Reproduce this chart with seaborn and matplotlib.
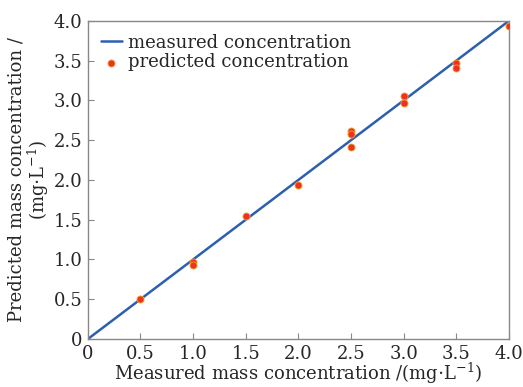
import numpy as np
import pandas as pd
import seaborn as sns
import matplotlib.pyplot as plt
from matplotlib.ticker import FuncFormatter

# measured vs predicted concentration (mg/L)
line_x = [0.0, 4.0]
line_y = [0.0, 4.0]

measured = [0.5, 1.0, 1.0, 1.5, 2.0, 2.5, 2.5, 2.5, 3.0, 3.0, 3.5, 3.5, 4.0]
predicted = [0.50, 0.97, 0.93, 1.55, 1.94, 2.62, 2.58, 2.42, 3.05, 2.97, 3.47, 3.41, 3.94]

sns.set_style("ticks")
plt.rcParams['font.family'] = ['DejaVu Serif']
plt.rcParams['mathtext.fontset'] = 'dejavuserif'

fig, ax = plt.subplots(figsize=(5.23, 3.87), dpi=100)

sns.lineplot(x=line_x, y=line_y, ax=ax, color='#2d5fb0', linewidth=1.8,
             label='measured concentration')
sns.scatterplot(x=measured, y=predicted, ax=ax, color='#ee3124', edgecolor='#f5a623',
                linewidth=0.6, s=26, label='predicted concentration', zorder=3)

ax.set_xlim(0, 4)
ax.set_ylim(0, 4)
ticks = np.arange(0, 4.01, 0.5)
ax.set_xticks(ticks)
ax.set_yticks(ticks)
fmt = FuncFormatter(lambda v, p: '0' if v == 0 else f'{v:.1f}')
ax.xaxis.set_major_formatter(fmt)
ax.yaxis.set_major_formatter(fmt)
ax.tick_params(direction='in', length=4, labelsize=13, color='#888888')
ax.tick_params(axis='x', pad=4)
ax.tick_params(axis='y', pad=4)
for s in ax.spines.values():
    s.set_color('#888888')
    s.set_linewidth(1.0)

ax.set_xlabel('Measured mass concentration /(mg$\\cdot$L$^{-1}$)', fontsize=13, labelpad=-1)
ax.set_ylabel('Predicted mass concentration /\n(mg$\\cdot$L$^{-1}$)', fontsize=13, labelpad=2,
              linespacing=1.0)

leg = ax.legend(loc='upper left', frameon=False, fontsize=13, handlelength=1.2,
                handletextpad=0.3, borderaxespad=0.3, labelspacing=0.1)

fig.subplots_adjust(left=0.168, right=0.973, top=0.946, bottom=0.124)
fig.savefig('out.png', dpi=100)
